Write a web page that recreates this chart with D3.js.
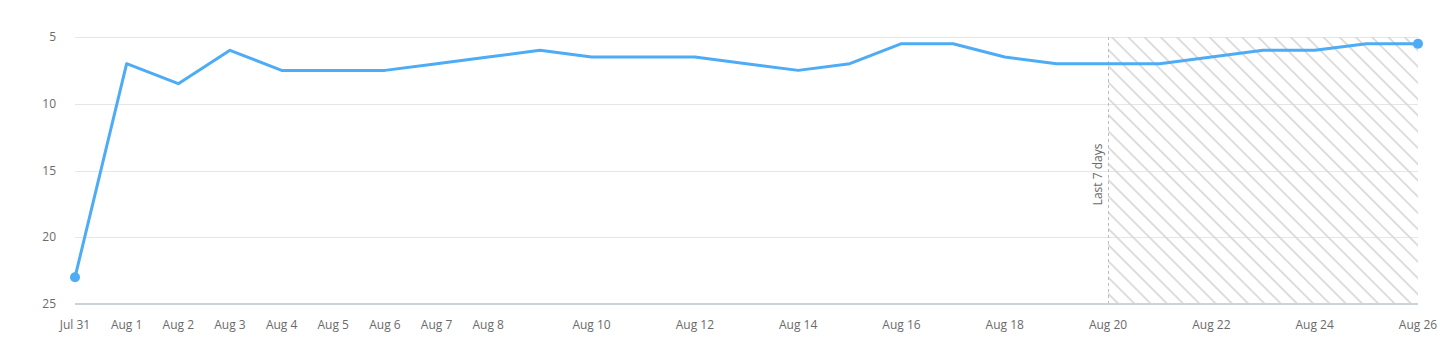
<!DOCTYPE html>
<html>
    <head>
        <meta charset="UTF-8">
        <script src="https://d3js.org/d3.v7.min.js"></script>

        <style>
            body {
                margin: 0;
                background: white;
                font-family: "Open Sans", Arial, sans-serif;
                font-size: 12px;
            }

            .grid line {
                stroke: #e6e6e6;
                stroke-width: 1px;
            }

            .tick-label {
                fill: #6b6b6b;
                font-size: 12px;
            }

            .base-line {
                stroke: #ccd3d9;
                stroke-width: 2px;
            }

            .series {
                fill: none;
                stroke: #4dacf5;
                stroke-width: 3px;
                stroke-linejoin: round;
            }

            .end-dot {
                fill: #4dacf5;
            }

            .last-days-line {
                stroke: #bdbdbd;
                stroke-width: 1px;
                stroke-dasharray: 3 3;
            }
        </style>
    </head>
    <body>
        <svg></svg>

        <script>

            // chart data
            const days = [
                "2023-07-31", "2023-08-01", "2023-08-02", "2023-08-03", "2023-08-04",
                "2023-08-05", "2023-08-06", "2023-08-07", "2023-08-08", "2023-08-09",
                "2023-08-10", "2023-08-11", "2023-08-12", "2023-08-13", "2023-08-14",
                "2023-08-15", "2023-08-16", "2023-08-17", "2023-08-18", "2023-08-19",
                "2023-08-20", "2023-08-21", "2023-08-22", "2023-08-23", "2023-08-24",
                "2023-08-25", "2023-08-26"
            ];
            const positions = [
                23, 7, 8.5, 6, 7.5,
                7.5, 7.5, 7, 6.5, 6,
                6.5, 6.5, 6.5, 7, 7.5,
                7, 5.5, 5.5, 6.5, 7,
                7, 7, 6.5, 6, 6,
                5.5, 5.5
            ];
            const xTickDays = [
                "2023-07-31", "2023-08-01", "2023-08-02", "2023-08-03", "2023-08-04",
                "2023-08-05", "2023-08-06", "2023-08-07", "2023-08-08", "2023-08-10",
                "2023-08-12", "2023-08-14", "2023-08-16", "2023-08-18", "2023-08-20",
                "2023-08-22", "2023-08-24", "2023-08-26"
            ];
            const yTicks = [5, 10, 15, 20, 25];
            const lastDaysStart = "2023-08-20";
            const lastDaysLabel = "Last 7 days";

            function drawGraph () {
                const width = 1440,
                    height = 348,
                    margin = { top: 37, right: 22, bottom: 44, left: 75 };

                const parse = d3.utcParse("%Y-%m-%d");
                const fmt = d3.utcFormat("%b %-d");

                const data = days.map((d, i) => ({ date: parse(d), value: positions[i] }));

                const svg = d3.select("svg")
                    .attr("width", width)
                    .attr("height", height);

                const x = d3.scaleUtc()
                    .domain(d3.extent(data, d => d.date))
                    .range([margin.left, width - margin.right]);

                const y = d3.scaleLinear()
                    .domain([5, 25])
                    .range([margin.top, height - margin.bottom]);

                // hatch pattern for the last-days zone
                const pattern = svg.append("defs")
                    .append("pattern")
                        .attr("id", "hatch")
                        .attr("patternUnits", "userSpaceOnUse")
                        .attr("width", 11.5)
                        .attr("height", 11.5)
                        .attr("patternTransform", "rotate(-45)");
                pattern.append("line")
                    .attr("x1", 1).attr("y1", 0)
                    .attr("x2", 1).attr("y2", 11.5)
                    .attr("stroke", "#d6d6d6")
                    .attr("stroke-width", 1.6);

                // grid lines
                svg.append("g")
                    .attr("class", "grid")
                    .selectAll("line")
                    .data(yTicks.slice(0, -1))
                    .join("line")
                        .attr("x1", x.range()[0])
                        .attr("x2", x.range()[1])
                        .attr("y1", d => Math.round(y(d)) + 0.5)
                        .attr("y2", d => Math.round(y(d)) + 0.5);

                // last 7 days zone
                const zoneX = x(parse(lastDaysStart));
                svg.append("rect")
                    .attr("x", zoneX)
                    .attr("y", y(5))
                    .attr("width", x.range()[1] - zoneX)
                    .attr("height", y(25) - y(5))
                    .attr("fill", "url(#hatch)");

                svg.append("line")
                    .attr("class", "last-days-line")
                    .attr("x1", Math.round(zoneX) + 0.5)
                    .attr("x2", Math.round(zoneX) + 0.5)
                    .attr("y1", y(5))
                    .attr("y2", y(25));

                svg.append("text")
                    .attr("class", "tick-label")
                    .attr("transform", `translate(${zoneX - 6}, ${(y(5) + y(25)) / 2 + 4}) rotate(-90)`)
                    .attr("text-anchor", "middle")
                    .attr("font-size", 11)
                    .text(lastDaysLabel);

                // bottom axis line
                svg.append("line")
                    .attr("class", "base-line")
                    .attr("x1", x.range()[0])
                    .attr("x2", x.range()[1])
                    .attr("y1", y(25))
                    .attr("y2", y(25));

                // y labels
                svg.append("g")
                    .selectAll("text")
                    .data(yTicks)
                    .join("text")
                        .attr("class", "tick-label")
                        .attr("x", 56)
                        .attr("y", d => y(d) + 4)
                        .attr("text-anchor", "end")
                        .text(d => d);

                // x labels
                svg.append("g")
                    .selectAll("text")
                    .data(xTickDays.map(parse))
                    .join("text")
                        .attr("class", "tick-label")
                        .attr("x", d => x(d))
                        .attr("y", 329)
                        .attr("text-anchor", "middle")
                        .text(d => fmt(d));

                // line
                svg.append("path")
                    .datum(data)
                    .attr("class", "series")
                    .attr("d", d3.line()
                        .x(d => x(d.date))
                        .y(d => y(d.value)));

                svg.append("g")
                    .selectAll("circle")
                    .data([data[0], data[data.length - 1]])
                    .join("circle")
                        .attr("class", "end-dot")
                        .attr("cx", d => x(d.date))
                        .attr("cy", d => y(d.value))
                        .attr("r", 5);
            }

            drawGraph();

        </script>
    </body>
</html>
